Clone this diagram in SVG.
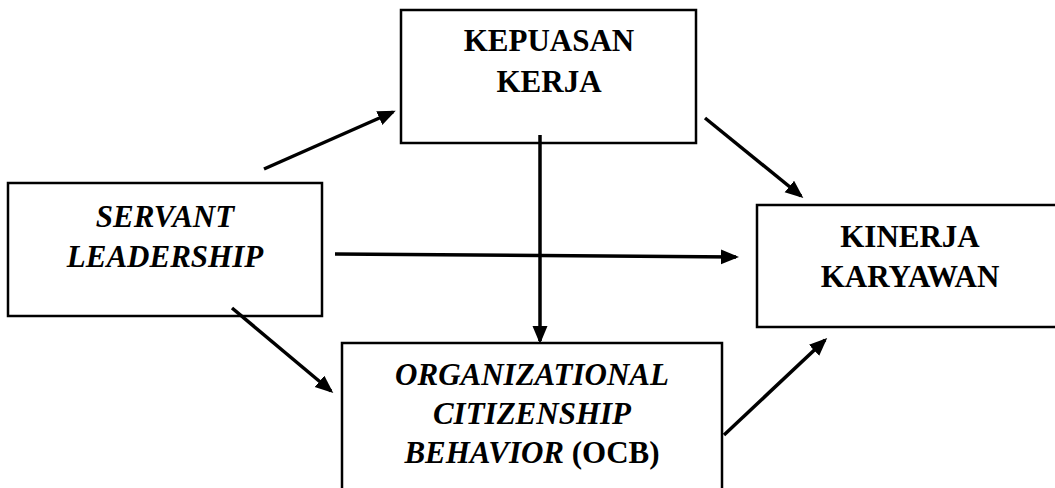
<svg xmlns="http://www.w3.org/2000/svg" width="1055" height="488" viewBox="0 0 1055 488">
<style>
.box{fill:#fff;stroke:#000;stroke-width:2.5}
.t{font-family:"Liberation Serif","Times New Roman",serif;font-size:31px;font-weight:bold;fill:#000;text-anchor:middle}
.i{font-style:italic}
.c{stroke:#000;stroke-width:3.5;fill:none;marker-end:url(#ah)}
</style>
<defs>
<marker id="ah" markerUnits="userSpaceOnUse" markerWidth="20" markerHeight="16" refX="15" refY="7.5" orient="auto">
<path d="M0,0 L18,7.5 L0,15 z" fill="#000"/>
</marker>
</defs>
<rect width="1055" height="488" fill="#fff"/>
<g id="kepuasan">
<rect class="box" x="401" y="10" width="295" height="133"/>
<text class="t" x="549" y="51">KEPUASAN</text>
<text class="t" x="549" y="92">KERJA</text>
</g>
<g id="servant">
<rect class="box" x="8" y="183" width="314" height="133"/>
<text class="t i" x="165" y="227">SERVANT</text>
<text class="t i" x="165" y="267">LEADERSHIP</text>
</g>
<g id="kinerja">
<rect class="box" x="757" y="205" width="305" height="122"/>
<text class="t" x="910" y="247">KINERJA</text>
<text class="t" x="910" y="287">KARYAWAN</text>
</g>
<g id="ocb">
<rect class="box" x="342" y="343" width="380" height="160"/>
<text class="t i" x="532" y="385">ORGANIZATIONAL</text>
<text class="t i" x="532" y="424">CITIZENSHIP</text>
<text class="t" x="532" y="463"><tspan font-style="italic">BEHAVIOR</tspan> (OCB)</text>
</g>
<g id="connectors">
<line class="c" x1="264" y1="169" x2="393" y2="112"/>
<line class="c" x1="705" y1="118" x2="801" y2="196"/>
<line class="c" x1="540" y1="135" x2="540" y2="341"/>
<line class="c" x1="335" y1="254" x2="736" y2="257"/>
<line class="c" x1="232" y1="308" x2="331" y2="391"/>
<line class="c" x1="724" y1="435" x2="825" y2="340"/>
</g>
</svg>
